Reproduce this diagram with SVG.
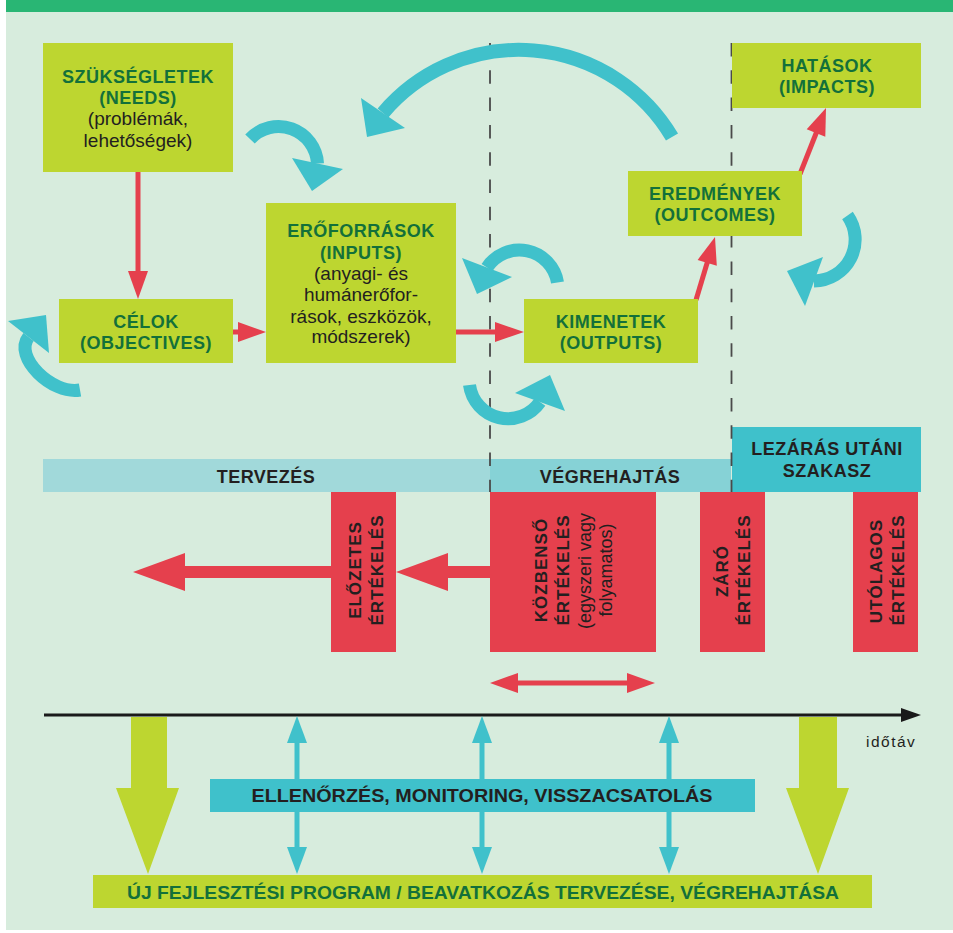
<svg xmlns="http://www.w3.org/2000/svg" width="953" height="933" viewBox="0 0 953 933">
<style>
.bg{fill:#d7ecdd}
.gbox{fill:#bdd630}
.rbox{fill:#e5404d}
.hd{font-family:"Liberation Sans",Arial,sans-serif;font-weight:bold;font-size:18px;fill:#13703a;text-anchor:middle;letter-spacing:0.5px}
.tx{font-family:"Liberation Sans",Arial,sans-serif;font-size:19px;fill:#231f20;text-anchor:middle}
.bk{font-family:"Liberation Sans",Arial,sans-serif;font-weight:bold;font-size:18px;fill:#231f20;text-anchor:middle;letter-spacing:0.5px}
.rt{font-family:"Liberation Sans",Arial,sans-serif;font-weight:bold;font-size:17px;fill:#231f20;text-anchor:middle;letter-spacing:1px}
.rn{font-family:"Liberation Sans",Arial,sans-serif;font-size:18px;fill:#231f20;text-anchor:middle}
.wide{font-family:"Liberation Sans",Arial,sans-serif;font-weight:bold;font-size:18px;text-anchor:middle}
.cy{stroke:#40c1cb;stroke-width:13;fill:none}
.cyf{fill:#40c1cb}
.red{fill:#e5404d}
.redl{stroke:#e5404d;stroke-width:5;fill:none}
.dash{stroke:#4a4a4a;stroke-width:1.8;stroke-dasharray:13.5 13.8;fill:none}
</style>
<rect x="6" y="0" width="947" height="930" class="bg"/>
<rect x="6" y="0" width="947" height="12" fill="#29b674"/>

<g id="phase-tervezes">
<rect x="43" y="459" width="447" height="33" fill="#a1d9da"/>
<text class="bk" x="266" y="483">TERVEZÉS</text>
</g>
<g id="phase-vegrehajtas">
<rect x="490" y="459" width="241" height="33" fill="#86d2d6"/>
<text class="bk" x="610" y="483">VÉGREHAJTÁS</text>
</g>
<g id="phase-lezaras">
<rect x="732" y="427" width="189" height="65" fill="#3fc1cb"/>
<text class="bk" x="827" y="455">LEZÁRÁS UTÁNI</text>
<text class="bk" x="827" y="477">SZAKASZ</text>
</g>

<g id="dividers">
<line x1="490" y1="43" x2="490" y2="492" class="dash"/>
<line x1="731.5" y1="43" x2="731.5" y2="492" class="dash"/>
</g>

<g id="connectors">
<line x1="138" y1="172" x2="138" y2="273" class="redl"/>
<polygon points="128,271 148,271 138,299" class="red"/>
<line x1="233" y1="332" x2="240" y2="332" class="redl"/>
<polygon points="238,322 238,342 266,332" class="red"/>
<line x1="456" y1="332" x2="497" y2="332" class="redl"/>
<polygon points="495,322 495,342 524,332" class="red"/>
<line x1="696" y1="300" x2="708" y2="260" class="redl"/>
<polygon points="697.6,259.9 716.8,265.7 715,237" class="red"/>
<line x1="800" y1="174" x2="817" y2="131" class="redl"/>
<polygon points="806.7,129.3 825.3,136.7 826,108" class="red"/>

<path d="M 672 137 A 178 178 0 0 0 383 113" class="cy" style="stroke-width:14"/>
<polygon points="361,98 405,128 367,137" class="cyf"/>
<path d="M 250 139 A 39 39 0 0 1 317.5 163.5" class="cy"/>
<polygon points="292,158 343,169 312,191" class="cyf"/>
<path d="M 80 390 C 52 395 13 357 28.5 337" class="cy"/>
<polygon points="8,321 49,353 46,315" class="cyf"/>
<path d="M 557.5 282.5 A 38.7 38.7 0 0 0 487 267.5" class="cy"/>
<polygon points="462,258 512,277 477,294" class="cyf"/>
<path d="M 469.5 385 A 38.9 38.9 0 0 0 540 402" class="cy"/>
<polygon points="515,393 565,411 550,375" class="cyf"/>
<path d="M 847.5 215.5 A 41.5 41.5 0 0 1 814 281" class="cy"/>
<polygon points="823,257 805,306 787,271" class="cyf"/>

<rect x="448" y="566" width="42" height="12" class="red"/>
<polygon points="396,572 448,553 448,591" class="red"/>
<rect x="185" y="566" width="146" height="12" class="red"/>
<polygon points="133,572 185,553 185,591" class="red"/>
<line x1="516" y1="683" x2="629" y2="683" class="redl"/>
<polygon points="490,683 518,673 518,693" class="red"/>
<polygon points="655,683 627,673 627,693" class="red"/>

<line x1="44" y1="715" x2="905" y2="715" stroke="#1a1a1a" stroke-width="3"/>
<polygon points="921,715 901,708 901,722" fill="#1a1a1a"/>

<polygon points="131,717 167,717 167,788 179,788 148,874 116,788 131,788" class="gbox"/>
<polygon points="799,717 837,717 837,788 849,788 818,874 786,788 799,788" class="gbox"/>

<g class="cyf">
<rect x="294.5" y="740" width="5" height="110"/>
<polygon points="297,716 287,743 307,743"/>
<polygon points="297,874 287,847 307,847"/>
<rect x="479.5" y="740" width="5" height="110"/>
<polygon points="482,716 472,743 492,743"/>
<polygon points="482,874 472,847 492,847"/>
<rect x="666.5" y="740" width="5" height="110"/>
<polygon points="669,716 659,743 679,743"/>
<polygon points="669,874 659,847 679,847"/>
</g>
</g>

<text x="866" y="747" font-family="Liberation Sans, Arial, sans-serif" font-size="15.5" fill="#231f20" letter-spacing="1.5">időtáv</text>

<g id="needs">
<rect x="43" y="43" width="190" height="129" class="gbox"/>
<text class="hd" x="138" y="83">SZÜKSÉGLETEK</text>
<text class="hd" x="138" y="104">(NEEDS)</text>
<text class="tx" x="138" y="125">(problémák,</text>
<text class="tx" x="138" y="147">lehetőségek)</text>
</g>
<g id="objectives">
<rect x="59" y="299" width="174" height="64" class="gbox"/>
<text class="hd" x="146" y="328">CÉLOK</text>
<text class="hd" x="146" y="349">(OBJECTIVES)</text>
</g>
<g id="inputs">
<rect x="266" y="203" width="190" height="160" class="gbox"/>
<text class="hd" x="361" y="237">ERŐFORRÁSOK</text>
<text class="hd" x="361" y="259">(INPUTS)</text>
<text class="tx" x="361" y="280">(anyagi- és</text>
<text class="tx" x="361" y="301">humánerőfor-</text>
<text class="tx" x="361" y="323">rások, eszközök,</text>
<text class="tx" x="361" y="343">módszerek)</text>
</g>
<g id="outputs">
<rect x="524" y="299" width="174" height="64" class="gbox"/>
<text class="hd" x="611" y="328">KIMENETEK</text>
<text class="hd" x="611" y="349">(OUTPUTS)</text>
</g>
<g id="outcomes">
<rect x="628" y="171" width="174" height="65" class="gbox"/>
<text class="hd" x="715" y="200">EREDMÉNYEK</text>
<text class="hd" x="715" y="221">(OUTCOMES)</text>
</g>
<g id="impacts">
<rect x="732" y="43" width="189" height="65" class="gbox"/>
<text class="hd" x="827" y="72">HATÁSOK</text>
<text class="hd" x="827" y="93">(IMPACTS)</text>
</g>

<g id="eval-elozetes">
<rect x="331" y="492" width="65" height="160" class="rbox"/>
<text class="rt" transform="translate(361 570) rotate(-90)">ELŐZETES</text>
<text class="rt" transform="translate(383 570) rotate(-90)">ÉRTÉKELÉS</text>
</g>
<g id="eval-kozbenso">
<rect x="490" y="492" width="166" height="160" class="rbox"/>
<text class="rt" transform="translate(547 570) rotate(-90)">KÖZBENSŐ</text>
<text class="rt" transform="translate(569 570) rotate(-90)">ÉRTÉKELÉS</text>
<text class="rn" transform="translate(591 571) rotate(-90)">(egyszeri vagy</text>
<text class="rn" transform="translate(612 570) rotate(-90)">folyamatos)</text>
</g>
<g id="eval-zaro">
<rect x="700" y="492" width="65" height="160" class="rbox"/>
<text class="rt" transform="translate(728 571) rotate(-90)">ZÁRÓ</text>
<text class="rt" transform="translate(750 570) rotate(-90)">ÉRTÉKELÉS</text>
</g>
<g id="eval-utolagos">
<rect x="853" y="492" width="65" height="160" class="rbox"/>
<text class="rt" transform="translate(882 571) rotate(-90)">UTÓLAGOS</text>
<text class="rt" transform="translate(904 570) rotate(-90)">ÉRTÉKELÉS</text>
</g>

<g id="monitoring">
<rect x="210" y="779" width="545" height="33" fill="#3fc1cb"/>
<text class="wide" x="482" y="802" fill="#231f20" textLength="461" lengthAdjust="spacingAndGlyphs">ELLENŐRZÉS, MONITORING, VISSZACSATOLÁS</text>
</g>
<g id="new-program">
<rect x="93" y="875" width="779" height="33" class="gbox"/>
<text class="wide" x="483" y="899" fill="#13703a" textLength="712" lengthAdjust="spacingAndGlyphs">ÚJ FEJLESZTÉSI PROGRAM / BEAVATKOZÁS TERVEZÉSE, VÉGREHAJTÁSA</text>
</g>
</svg>
